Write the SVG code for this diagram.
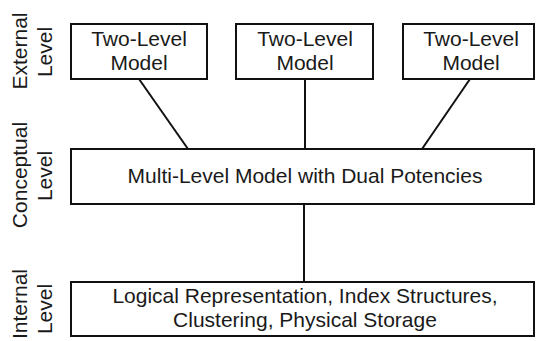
<svg xmlns="http://www.w3.org/2000/svg" width="536" height="341" viewBox="0 0 536 341">
<style>
.box{fill:#fff;stroke:#111;stroke-width:2}
.t{font-family:"Liberation Sans",Arial,sans-serif;font-size:21px;fill:#1a1a1a;text-anchor:middle}
.c{stroke:#111;stroke-width:2;fill:none}
</style>
<rect width="536" height="341" fill="#fff"/>
<g id="labels">
<text class="t" transform="translate(27,51) rotate(-90)">External</text>
<text class="t" transform="translate(52,52) rotate(-90)">Level</text>
<text class="t" transform="translate(27,175) rotate(-90)">Conceptual</text>
<text class="t" transform="translate(52,176) rotate(-90)">Level</text>
<text class="t" transform="translate(27,304) rotate(-90)">Internal</text>
<text class="t" transform="translate(52,309) rotate(-90)">Level</text>
</g>
<g id="connectors">
<line class="c" x1="139" y1="79" x2="188" y2="149"/>
<line class="c" x1="305" y1="79" x2="305" y2="149"/>
<line class="c" x1="470" y1="79" x2="422" y2="149"/>
<line class="c" x1="304" y1="204" x2="304" y2="282"/>
</g>
<g id="ext1">
<rect class="box" x="71" y="24" width="136" height="55"/>
<text class="t" x="139" y="45.5">Two-Level</text>
<text class="t" x="139" y="69.5">Model</text>
</g>
<g id="ext2">
<rect class="box" x="236" y="24" width="137" height="55"/>
<text class="t" x="305" y="45.5">Two-Level</text>
<text class="t" x="305" y="69.5">Model</text>
</g>
<g id="ext3">
<rect class="box" x="403" y="24" width="131" height="55"/>
<text class="t" x="471" y="45.5">Two-Level</text>
<text class="t" x="471" y="69.5">Model</text>
</g>
<g id="conceptual">
<rect class="box" x="71" y="149" width="463" height="55"/>
<text class="t" x="305" y="183">Multi-Level Model with Dual Potencies</text>
</g>
<g id="internal">
<rect class="box" x="71" y="282" width="463" height="54"/>
<text class="t" x="305" y="303">Logical Representation, Index Structures,</text>
<text class="t" x="305" y="327">Clustering, Physical Storage</text>
</g>
</svg>
